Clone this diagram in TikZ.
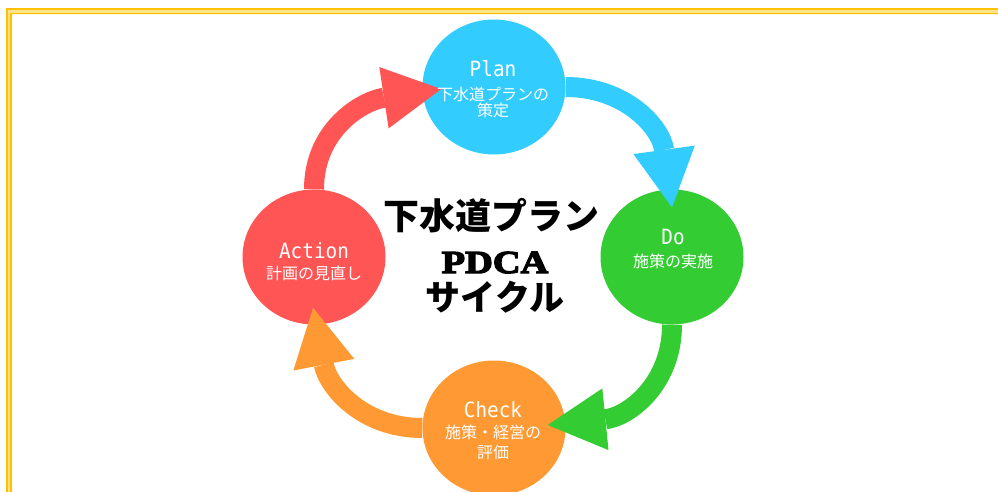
\documentclass[tikz,border=0pt]{standalone}
\usepackage{fontspec}
\usetikzlibrary{arrows.meta,shapes.geometric,calc}
\newfontfamily\jp{Noto Sans CJK JP}
\newfontfamily\mono[FakeStretch=0.92]{DejaVu Sans Mono}
\newfontfamily\pdca[UprightFont={* Bold},FakeBold=4,FakeStretch=1.2]{Liberation Serif}
\definecolor{cblue}{HTML}{33CCFF}
\definecolor{cgreen}{HTML}{33CC33}
\definecolor{corange}{HTML}{FF9933}
\definecolor{cred}{HTML}{FF5555}
\definecolor{gold}{HTML}{FFC000}
\definecolor{goldlight}{HTML}{FFE38A}
\begin{document}
\begin{tikzpicture}[x=1pt,y=-1pt,
  disc/.style={ellipse, minimum width=143pt, minimum height=135pt, inner sep=0pt},
  flow/.style={line width=20pt, -{Triangle[length=58pt,width=62pt,line width=0pt]}},
  lbl/.style={text=white, anchor=base, inner sep=0pt},
  en/.style={font=\mono\fontsize{21}{21}\selectfont},
  ja/.style={font=\jp\fontsize{16}{16}\selectfont},
  ttl/.style={anchor=base, inner sep=0pt, text=black}]
\useasboundingbox (0,0) rectangle (998,492);
% frame
\fill[goldlight] (6,492) -- (6,8.5) -- (998,8.5) -- (998,14.5) -- (12,14.5) -- (12,492) -- cycle;
\draw[gold, line width=2pt] (7,492) -- (7,9.5) -- (998,9.5);
\draw[gold, line width=1.6pt] (11,492) -- (11,13.5) -- (998,13.5);
% circles
\node[disc, fill=cblue] (plan) at (494,87) {};
\node[disc, fill=cgreen] (do) at (672,257) {};
\node[disc, fill=corange] (check) at (494,428) {};
\node[disc, fill=cred] (action) at (314,257) {};
% arrows
\draw[flow, cblue] (plan.east) .. controls +(60,0) and +(-11,-80) .. ($(do.north)+(0,18)$);
\draw[flow, cgreen] (do.south) .. controls +(0,60) and +(80,-8) .. ($(check.east)+(-18,-3)$);
\draw[flow, corange] (check.west) .. controls +(-60,0) and +(15,79) .. ($(action.south)+(-1,-17)$);
\draw[flow, cred] (action.north) .. controls +(0,-60) and +(-79,12) .. ($(plan.west)+(19,2)$);
% labels
\node[lbl, en] (planT) at (493,77) {Plan};
\node[lbl, ja] (planJ1) at (493,101) {下水道プランの};
\node[lbl, ja] (planJ2) at (493,117) {策定};
\node[lbl, en] (doT) at (673,244) {Do};
\node[lbl, ja] (doJ) at (673,267) {施策の実施};
\node[lbl, en] (checkT) at (493,417) {Check};
\node[lbl, ja] (checkJ1) at (493,438) {施策・経営の};
\node[lbl, ja] (checkJ2) at (493,458) {評価};
\node[lbl, en] (actionT) at (314,258) {Action};
\node[lbl, ja] (actionJ) at (314,279) {計画の見直し};
% title
\node[ttl, font=\jp\bfseries\fontsize{36}{36}\selectfont] (t1) at (491,229) {下水道プラン};
\node[ttl, font=\pdca\fontsize{32}{32}\selectfont] (t2) at (495,273) {PDCA};
\node[ttl, font=\jp\bfseries\fontsize{35}{35}\selectfont] (t3) at (495,310) {サイクル};
\end{tikzpicture}
\end{document}
